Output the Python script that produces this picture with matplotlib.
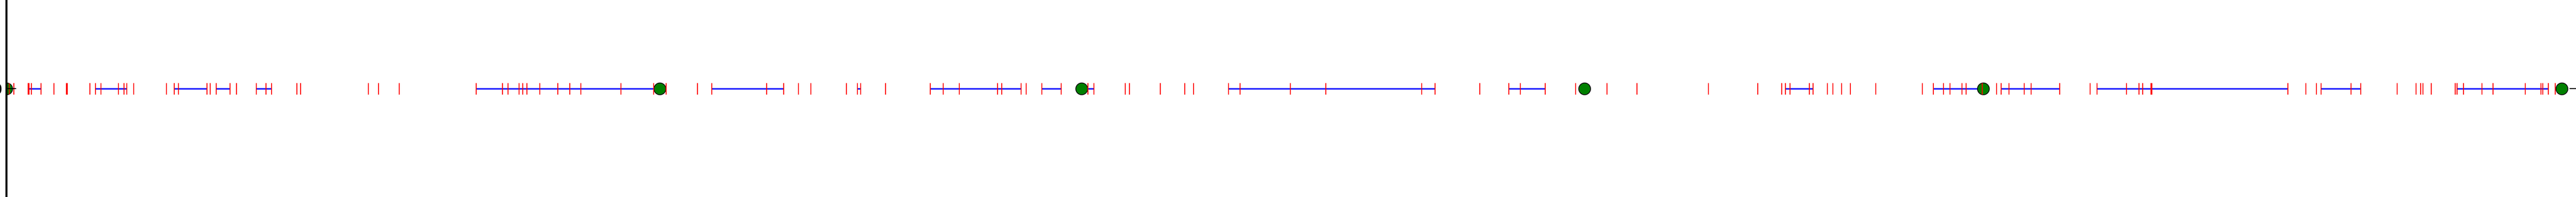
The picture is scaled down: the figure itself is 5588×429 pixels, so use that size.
import matplotlib
matplotlib.use("Agg")
import matplotlib.pyplot as plt

# ---- data (time units) ----
event_times = [
    6, 16, 46.7, 48.5, 53.9, 74.8, 103, 129.7, 132, 181, 192.7, 204.7, 243, 254.7,
    261.4, 276, 346.7, 364, 372.6, 434.6, 441.8, 454.7, 485, 499, 541.8, 562.8, 575,
    630, 638,
    785, 807.4, 852.3, 1018.7, 1076, 1088, 1111.5, 1119.7, 1129.4, 1157.4, 1195.7,
    1221.7, 1245.7, 1333.4, 1404.4, 1430.9,
    1498.8, 1530.4, 1648.8, 1685.5, 1718, 1745.2, 1822.2, 1845.7, 1853.3, 1906.9,
    2003.8, 2031.9, 2066.6, 2149.8, 2159,
    2201.3, 2211.5, 2246.2, 2287.5, 2346.2, 2359, 2427.3, 2435.5, 2502.8, 2555.9,
    2574.8, 2651.3, 2675.8, 2784.5, 2862,
    3070.2, 3098.8, 3196.2, 3259, 3284, 3337.5, 3403.9, 3472.2, 3537, 3692,
    3798.8, 3851.3, 3859, 3868.7, 3911, 3919.2, 3949.8, 3962, 3980.9, 3999.8,
    4054.9, 4155.9, 4179.9, 4201.8, 4216.1, 4242.1, 4250.8, 4286, 4317.1, 4327.3,
    4344.2, 4376.8, 4392.1, 4454.4, 4520.2, 4535,
    4598.6, 4625.7, 4633.9, 4651.5, 4654, 4948.9, 4988, 5010.7, 5020.8, 5085.7,
    5106.5, 5185.9, 5227.4, 5236.9, 5242, 5259.6, 5311.9, 5315.7, 5329.5, 5369.8,
    5394.4, 5463.7, 5497.8, 5501.5, 5513.5, 5528.6,
]

interval_starts = [48.5, 129.7, 192.7, 364, 454.7, 541.8, 1018.7, 1530.4, 1845.7,
                   2003.8, 2246.2, 2346.2, 2651.3, 3259, 3859, 4179.9, 4327.3,
                   4535, 5020.8, 5315.7]
interval_ends = [74.8, 132, 261.4, 434.6, 485, 575, 1404.4, 1685.5, 1853.3,
                 2201.3, 2287.5, 2359, 3098.8, 3337.5, 3919.2, 4286, 4454.4,
                 4948.9, 5106.5, 5513.5]

milestone_times = [0, 1416.6, 2331.9, 3422.7, 4288, 5543]

y_ticks = [0]
y_tick_labels = ["0"]

# ---- figure ----
W, H, DPI = 5588, 429, 100
fig = plt.figure(figsize=(W / DPI, H / DPI), dpi=DPI)
fig.patch.set_facecolor("white")

left_px, right_px = 14, 5595
center_from_bottom = (H - 193) / H
ax_h = 2.0
ax = fig.add_axes([left_px / W, center_from_bottom - ax_h / 2,
                   (right_px - left_px) / W, ax_h])
ax.set_xlim(0, 5581)
ax.set_ylim(-1, 1)

ax.hlines([0] * len(interval_starts), interval_starts, interval_ends,
          colors="blue", linewidth=2.2, zorder=2.0)
ax.plot(milestone_times, [0] * len(milestone_times), linestyle="none",
        marker="o", markersize=18.5, markerfacecolor="green",
        markeredgecolor="black", markeredgewidth=1.2, zorder=2.1)
ax.plot(event_times, [0] * len(event_times), linestyle="none", marker="|",
        markersize=18, markeredgewidth=1.4, color="red", zorder=2.2)

ax.set_axisbelow(False)
for side in ["top", "bottom", "right"]:
    ax.spines[side].set_visible(False)
ax.spines["left"].set_linewidth(3.2)
ax.spines["left"].set_color("black")

ax.set_xticks([])
ax.set_yticks(y_ticks)
ax.set_yticklabels(y_tick_labels)
ax.tick_params(axis="y", which="both", direction="in", length=15, width=1.5,
               left=True, right=True, labelleft=True, labelright=False,
               labelsize=23, pad=6, color="black")

fig.savefig("out.png", dpi=DPI, facecolor="white")
